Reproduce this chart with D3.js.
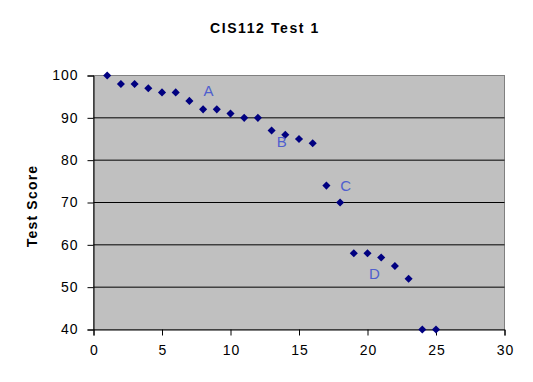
<!DOCTYPE html>
<html><head><meta charset="utf-8">
<script src="https://cdn.jsdelivr.net/npm/d3@7"></script>
<style>body{margin:0;background:#fff}svg{display:block}</style>
</head><body>
<script>
const studentNums = [1,2,3,4,5,6,7,8,9,10,11,12,13,14,15,16,17,18,19,20,21,22,23,24,25];
const scores = [100,98,98,97,96,96,94,92,92,91,90,90,87,86,85,84,74,70,58,58,57,55,52,40,40];
const xTicks = [0,5,10,15,20,25,30];
const yTicks = [40,50,60,70,80,90,100];
const gradeLabels = ["A","B","C","D"];
const gradeLabelX = [8.4,13.75,18.4,20.5];
const gradeLabelY = [96.5,84.5,74,53.2];
const title = "CIS112 Test 1";
const yTitle = "Test Score";

const W=533,H=382;
const svg=d3.select("body").append("svg").attr("width",W).attr("height",H);
const x=d3.scaleLinear().domain([0,30]).range([93.5,504.5]);
const y=d3.scaleLinear().domain([40,100]).range([329.5,75.5]);

svg.append("rect").attr("x",x(0)).attr("y",y(100)).attr("width",x(30)-x(0)).attr("height",y(40)-y(100))
  .attr("fill","#c0c0c0").attr("stroke","#808080").attr("stroke-width",1);

svg.append("g").selectAll("line").data(yTicks.filter(d=>d>40&&d<100)).join("line")
  .attr("x1",x(0)).attr("x2",x(30)).attr("y1",d=>y(d)).attr("y2",d=>y(d)).attr("stroke","#000");

const font="Arial, 'Liberation Sans', sans-serif";
const yAxis=svg.append("g").attr("transform",`translate(${x(0)},0)`)
  .call(d3.axisLeft(y).tickValues(yTicks).tickSize(6).tickPadding(9));
const xAxis=svg.append("g").attr("transform",`translate(0,${y(40)})`)
  .call(d3.axisBottom(x).tickValues(xTicks).tickSize(6).tickPadding(10));
[yAxis,xAxis].forEach(g=>{
  g.select(".domain").attr("stroke","#000");
  g.selectAll("line").attr("stroke","#000");
  g.selectAll("text").attr("font-family",font).attr("font-size",14).attr("letter-spacing",1).attr("fill","#000");
});
xAxis.selectAll("text").attr("dx",0.5);

svg.append("g").selectAll("path").data(studentNums).join("path")
  .attr("transform",(d,i)=>`translate(${x(d)},${y(scores[i])})`)
  .attr("d",d3.symbol(d3.symbolDiamond2,42))
  .attr("fill","#000080");

svg.append("g").selectAll("text").data(gradeLabels).join("text")
  .attr("x",(d,i)=>x(gradeLabelX[i])).attr("y",(d,i)=>y(gradeLabelY[i]))
  .attr("text-anchor","middle").attr("dominant-baseline","central")
  .attr("font-family",font).attr("font-size",15).attr("fill","#4f5fce").text(d=>d);

svg.append("text").attr("x",265).attr("y",33).attr("text-anchor","middle")
  .attr("font-family",font).attr("font-size",14).attr("letter-spacing",1.6).attr("font-weight","bold").text(title);

svg.append("text").attr("transform","translate(37,206) rotate(-90)").attr("text-anchor","middle")
  .attr("font-family",font).attr("font-size",14).attr("letter-spacing",1.2).attr("font-weight","bold").text(yTitle);
</script>
</body></html>
